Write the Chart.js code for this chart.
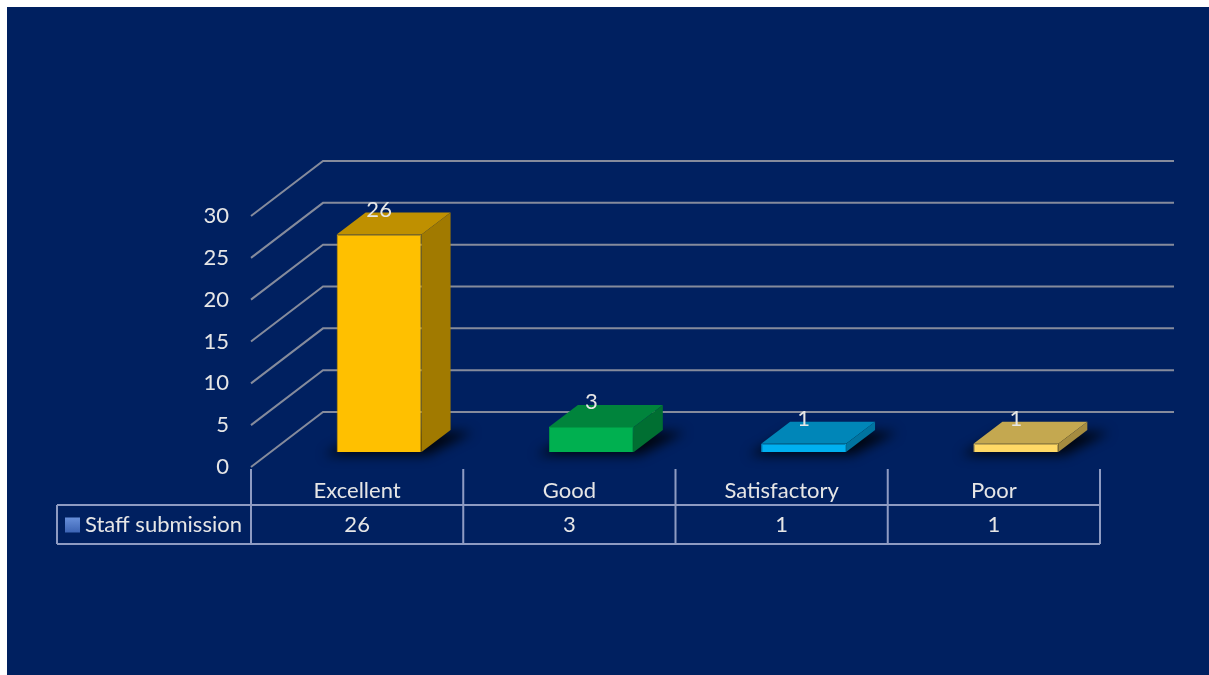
<!DOCTYPE html>
<html>
<head>
<meta charset="utf-8">
<script src="https://cdn.jsdelivr.net/npm/chart.js@4.4.1/dist/chart.umd.min.js"></script>
<style>
    html, body { margin: 0; padding: 0; background: #ffffff; }
    #wrap { width: 1209px; height: 675px; position: relative; }
</style>
</head>
<body>
<div id="wrap"><canvas id="ratingChart"></canvas></div>
<script>
var categories = ['Excellent', 'Good', 'Satisfactory', 'Poor']
var submissions = [26, 3, 1, 1]
var seriesName = 'Staff submission'
var yMax = 30
var yStep = 5

// front, top and side shades of each box
var frontColors = ['#FFC000', '#00B050', '#00B0F0', '#FFD966']
var topColors = ['#BF9000', '#00843C', '#0086B8', '#C4A850']
var sideColors = ['#A17A00', '#006F32', '#0074A0', '#A58C40']
var edgeColors = ['#D9A300', '#009A45', '#009CD6', '#E6C25A']

var textColor = '#E6E6E6'
var fontFamily = 'Lato, "Open Sans", sans-serif'
var fontSize = 22

// oblique projection used for the walls and boxes
var wallDX = 72, wallDY = 55
var barShiftX = 22, barShiftY = 15
var boxDX = 29, boxDY = 22

var threeDPlugin = {
    id: 'threeD',
    beforeDraw: function (chart) {
        var ctx = chart.ctx
        ctx.save()
        ctx.fillStyle = '#ffffff'
        ctx.fillRect(0, 0, chart.width, chart.height)
        ctx.fillStyle = '#002060'
        ctx.fillRect(7, 7, chart.width - 7, chart.height - 7)
        ctx.restore()
    },
    beforeDatasetsDraw: function (chart) {
        var ctx = chart.ctx
        var area = chart.chartArea
        var y = chart.scales.y

        // side wall + back wall gridlines
        ctx.save()
        ctx.strokeStyle = '#858B9C'
        ctx.lineWidth = 2
        for (var v = 0; v <= yMax; v += yStep) {
            var fy = y.getPixelForValue(v)
            ctx.beginPath()
            ctx.moveTo(area.left, fy)
            ctx.lineTo(area.left + wallDX, fy - wallDY)
            ctx.lineTo(area.right + 74, fy - wallDY)
            ctx.stroke()
        }
        ctx.restore()

        // boxes sit a little way back into the floor
        ctx.save()
        ctx.translate(barShiftX, -barShiftY)

        var meta = chart.getDatasetMeta(0)
        meta.data.forEach(function (bar) {
            var xl = bar.x - bar.width / 2
            var xr = bar.x + bar.width / 2
            var b = bar.base
            ctx.save()
            ctx.filter = 'blur(6px)'
            ctx.fillStyle = 'rgba(0,0,0,0.85)'
            ctx.beginPath()
            ctx.moveTo(xl - 12, b + 3)
            ctx.lineTo(xr + 6, b + 3)
            ctx.lineTo(xr + boxDX + 22, b - boxDY + 2)
            ctx.lineTo(xl + boxDX, b - boxDY + 2)
            ctx.closePath()
            ctx.fill()
            ctx.restore()
        })
    },
    afterDatasetsDraw: function (chart) {
        var ctx = chart.ctx
        var meta = chart.getDatasetMeta(0)

        meta.data.forEach(function (bar, i) {
            var xl = bar.x - bar.width / 2
            var xr = bar.x + bar.width / 2
            var top = bar.y
            var b = bar.base

            ctx.fillStyle = topColors[i]
            ctx.beginPath()
            ctx.moveTo(xl, top)
            ctx.lineTo(xl + boxDX, top - boxDY)
            ctx.lineTo(xr + boxDX, top - boxDY)
            ctx.lineTo(xr, top)
            ctx.closePath()
            ctx.fill()

            ctx.fillStyle = sideColors[i]
            ctx.beginPath()
            ctx.moveTo(xr, top)
            ctx.lineTo(xr + boxDX, top - boxDY)
            ctx.lineTo(xr + boxDX, b - boxDY)
            ctx.lineTo(xr, b)
            ctx.closePath()
            ctx.fill()

            ctx.fillStyle = textColor
            ctx.font = fontSize + 'px ' + fontFamily
            ctx.textAlign = 'center'
            ctx.textBaseline = 'middle'
            ctx.fillText(String(submissions[i]), bar.x, top - 25)
        })

        ctx.restore()
    },
    afterDraw: function (chart) {
        var ctx = chart.ctx
        var area = chart.chartArea
        var x = chart.scales.x

        var rowTop = area.bottom + 38
        var rowBottom = area.bottom + 77
        var legendLeft = 57

        var edges = [area.left]
        for (var i = 0; i < categories.length - 1; i++) {
            edges.push((x.getPixelForValue(i) + x.getPixelForValue(i + 1)) / 2)
        }
        edges.push(area.right)

        ctx.save()
        ctx.strokeStyle = '#8E9BC2'
        ctx.lineWidth = 2
        ctx.beginPath()
        ctx.moveTo(legendLeft, rowTop)
        ctx.lineTo(area.right, rowTop)
        ctx.moveTo(legendLeft, rowBottom)
        ctx.lineTo(area.right, rowBottom)
        ctx.moveTo(legendLeft, rowTop)
        ctx.lineTo(legendLeft, rowBottom)
        edges.forEach(function (ex) {
            ctx.moveTo(ex, area.bottom + 2)
            ctx.lineTo(ex, rowBottom)
        })
        ctx.stroke()

        // legend key
        var midY = (rowTop + rowBottom) / 2
        var grad = ctx.createLinearGradient(0, midY - 8, 0, midY + 8)
        grad.addColorStop(0, '#6A92DC')
        grad.addColorStop(1, '#3C64B4')
        ctx.fillStyle = grad
        ctx.fillRect(65, midY - 7, 15, 15)

        ctx.fillStyle = textColor
        ctx.font = fontSize + 'px ' + fontFamily
        ctx.textBaseline = 'middle'
        ctx.textAlign = 'left'
        ctx.fillText(seriesName, 85, midY)

        ctx.textAlign = 'center'
        submissions.forEach(function (val, i) {
            ctx.fillText(String(val), x.getPixelForValue(i), midY)
        })
        ctx.restore()
    }
}

var ratingData = {
    labels: categories,
    datasets: [
        {
            label: seriesName,
            data: submissions,
            backgroundColor: frontColors,
            borderColor: edgeColors,
            borderWidth: 1,
            barPercentage: 0.4,
            categoryPercentage: 1.0,
            clip: false
        }
    ]
}

var ratingOptions = {
    responsive: true,
    maintainAspectRatio: false,
    animation: false,
    layout: {
        padding: { left: 0, right: 109, top: 216, bottom: 0 }
    },
    plugins: {
        legend: { display: false },
        tooltip: { enabled: false }
    },
    scales: {
        x: {
            grid: { display: false, drawTicks: false },
            border: { display: false },
            ticks: {
                color: textColor,
                font: { family: fontFamily, size: fontSize },
                padding: 11,
                maxRotation: 0
            },
            afterFit: function (scale) { scale.height = 208 }
        },
        y: {
            min: 0,
            max: yMax,
            grid: { display: false, drawTicks: false },
            border: { display: false },
            ticks: {
                stepSize: yStep,
                color: textColor,
                font: { family: fontFamily, size: fontSize },
                padding: 22
            },
            afterFit: function (scale) { scale.width = 251 }
        }
    }
}

var ratingChart = new Chart(document.getElementById('ratingChart').getContext('2d'), {
    type: 'bar',
    data: ratingData,
    options: ratingOptions,
    plugins: [threeDPlugin]
})
</script>
</body>
</html>
